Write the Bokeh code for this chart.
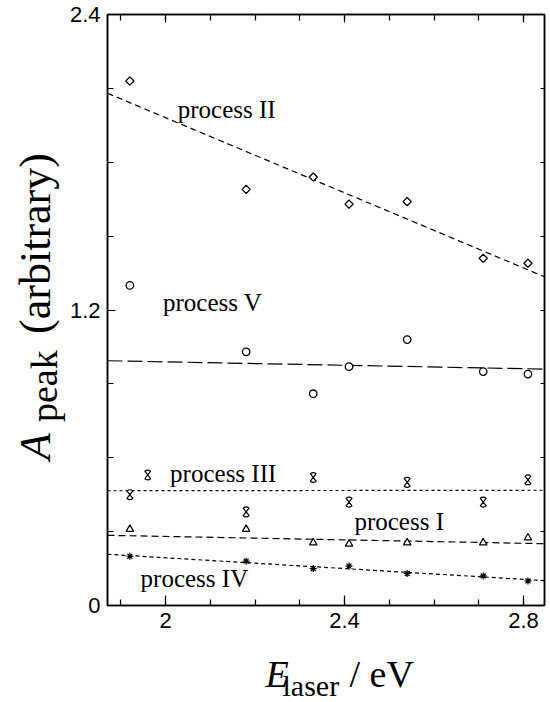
import math

from bokeh.embed import file_html
from bokeh.layouts import column, row
from bokeh.models import FixedTicker, Label, LinearAxis
from bokeh.plotting import figure
from bokeh.resources import INLINE

# Laser photon energies (eV)
e_laser = [1.92, 2.18, 2.33, 2.41, 2.54, 2.71, 2.81]
e_laser_iii = [1.92, 1.96, 2.18, 2.33, 2.41, 2.54, 2.71, 2.81]

# Peak amplitudes (arbitrary units) for each process
a_ii = [2.13, 1.69, 1.74, 1.63, 1.64, 1.41, 1.39]
a_v = [1.30, 1.03, 0.86, 0.97, 1.08, 0.95, 0.94]
a_iii = [0.45, 0.53, 0.38, 0.52, 0.42, 0.50, 0.42, 0.51]
a_i = [0.31, 0.31, 0.255, 0.25, 0.255, 0.255, 0.275]
a_iv = [0.20, 0.18, 0.15, 0.16, 0.13, 0.12, 0.10]

# Linear fits, evaluated at both ends of the energy axis
fit_x = [1.87, 2.847]
fit_ii = [2.08, 1.335]
fit_v = [0.994, 0.960]
fit_iii = [0.466, 0.468]
fit_i = [0.285, 0.251]
fit_iv = [0.208, 0.101]

# Axis ticks
x_ticks = [2.0, 2.4, 2.8]
x_tick_labels = ["2", "2.4", "2.8"]
x_minor = [1.9, 2.0, 2.1, 2.2, 2.3, 2.4, 2.5, 2.6, 2.7, 2.8]
y_ticks = [0.0, 1.2, 2.4]
y_tick_labels = ["0", "1.2", "2.4"]
y_minor = [0.3, 0.6, 0.9, 1.5, 1.8, 2.1]

# Process names and the baseline point where each is written
proc_names = ["process II", "process V", "process III", "process I", "process IV"]
proc_x = [2.027, 1.994, 2.010, 2.422, 1.944]
proc_y = [1.98, 1.197, 0.503, 0.307, 0.076]

X_START, X_END = 1.87, 2.847
Y_START, Y_END = 0.0, 2.4

SERIF = "Liberation Serif"
SANS = "Liberation Sans"
INK = "black"

# Label centres its text box on the anchor; the baseline then sits this
# fraction of the font size below the anchor.
BASELINE_DROP = 0.337

# sizes of the three panels (pixels)
LEFT_W = 66
MAIN_W, MAIN_H = 550 - LEFT_W, 640
BOTTOM_H = 702 - MAIN_H
FRAME_TOP, FRAME_BOTTOM = 14, 35
PX_PER_Y = (MAIN_H - FRAME_TOP - FRAME_BOTTOM) / (Y_END - Y_START)


def blank_panel(w, h, x_range, y_range):
    """A bare figure used only to carry axis-title text."""
    f = figure(width=w, height=h, x_range=x_range, y_range=y_range,
               output_backend="svg", toolbar_location=None,
               x_axis_type=None, y_axis_type=None, min_border=0)
    f.title.visible = False
    f.grid.visible = False
    f.outline_line_color = None
    f.background_fill_color = "white"
    f.border_fill_color = "white"
    return f


p = figure(
    width=MAIN_W, height=MAIN_H,
    x_range=(X_START, X_END), y_range=(Y_START, Y_END),
    output_backend="svg", toolbar_location=None,
    min_border_left=38, min_border_right=6,
    min_border_top=FRAME_TOP, min_border_bottom=FRAME_BOTTOM,
    x_axis_type=None, y_axis_type=None,
)
p.title.visible = False
p.grid.visible = False
p.outline_line_color = INK
p.outline_line_width = 1.5
p.background_fill_color = "white"
p.border_fill_color = "white"


def make_axis(ticks, minor, labels, major_in, minor_in, show_labels):
    ax = LinearAxis(ticker=FixedTicker(ticks=ticks, minor_ticks=minor))
    ax.axis_line_color = INK
    ax.axis_line_width = 1.5
    ax.major_tick_line_color = INK
    ax.minor_tick_line_color = INK
    ax.major_tick_line_width = 1.2
    ax.minor_tick_line_width = 1.2
    ax.major_tick_in = major_in
    ax.major_tick_out = 0
    ax.minor_tick_in = minor_in
    ax.minor_tick_out = 0
    if show_labels:
        ax.major_label_overrides = dict(zip(ticks, labels))
        ax.major_label_text_font = SANS
        ax.major_label_text_font_size = "22px"
        ax.major_label_text_color = INK
        ax.major_label_standoff = 7
    else:
        ax.major_label_text_font_size = "0px"
        ax.major_label_text_color = None
        ax.major_label_standoff = 0
    return ax


p.add_layout(make_axis(x_ticks, x_minor, x_tick_labels, 10, 6, True), "below")
p.add_layout(make_axis(x_ticks, x_minor, x_tick_labels, 8, 6, False), "above")
p.add_layout(make_axis(y_ticks, y_minor, y_tick_labels, 8, 6, True), "left")
p.add_layout(make_axis(y_ticks, y_minor, y_tick_labels, 4, 4, False), "right")

# Fit lines
p.line(fit_x, fit_ii, line_color=INK, line_width=1.2, line_dash="6 4")
p.line(fit_x, fit_v, line_color=INK, line_width=1.2, line_dash="15 5")
p.line(fit_x, fit_iii, line_color=INK, line_width=1.2, line_dash="3 3")
p.line(fit_x, fit_i, line_color=INK, line_width=1.2, line_dash="7 4")
p.line(fit_x, fit_iv, line_color=INK, line_width=1.2, line_dash="4 3")

# Measured points
p.scatter(e_laser, a_ii, marker="square", angle=math.pi / 4, size=5.8,
          fill_color="white", line_color=INK, line_width=1.3)
p.scatter(e_laser, a_v, marker="circle", size=7.5,
          fill_color="white", line_color=INK, line_width=1.3)
p.scatter(e_laser, a_i, marker="triangle", size=7.5,
          fill_color="white", line_color=INK, line_width=1.2)
p.scatter(e_laser, a_iv, marker="asterisk", size=7,
          line_color=INK, line_width=1.2)
# hourglass symbols: two opposed wedges sharing their apex
for start, end in [(52, 128), (232, 308)]:
    p.wedge(e_laser_iii, a_iii, radius=4.8, radius_units="screen",
            start_angle=math.radians(start), end_angle=math.radians(end),
            fill_color="white", line_color=INK, line_width=1.2)

PROC_SIZE = 25
for t, x, y in zip(proc_names, proc_x, proc_y):
    p.add_layout(Label(x=x, y=y + BASELINE_DROP * PROC_SIZE / PX_PER_Y, text=t,
                       text_font=SERIF, text_font_size=f"{PROC_SIZE}px",
                       text_color=INK, text_baseline="middle", text_align="left"))


def title_part(f, text, x, y, size, style="normal", angle=0.0):
    f.add_layout(Label(x=x, y=y, text=text, text_font=SERIF, text_font_size=f"{size}px",
                       text_font_style=style, text_color=INK,
                       text_baseline="middle", text_align="left", angle=angle))


# y-axis title: A_peak (arbitrary), read bottom to top.
# Horizontal units are pixels, vertical units follow the amplitude axis.
left = blank_panel(LEFT_W, MAIN_H, (0, LEFT_W), p.y_range)
Y_MAIN, Y_SUB = 44, 38
title_part(left, "A", 50 - BASELINE_DROP * Y_MAIN, 0.591, Y_MAIN, "italic", math.pi / 2)
title_part(left, "peak", 56 - BASELINE_DROP * Y_SUB, 0.745, Y_SUB, "normal", math.pi / 2)
title_part(left, "(arbitrary)", 50 - BASELINE_DROP * Y_MAIN, 1.103, Y_MAIN, "normal", math.pi / 2)

# x-axis title: E_laser / eV (units are pixels from the panel's lower left)
bottom = blank_panel(550, BOTTOM_H, (0, 550), (0, BOTTOM_H))
X_MAIN, X_SUB = 38, 30
title_part(bottom, "E", 265, 15.3 + BASELINE_DROP * X_MAIN, X_MAIN, "italic")
title_part(bottom, "laser", 282, 7 + BASELINE_DROP * X_SUB, X_SUB)
title_part(bottom, "/ eV", 349, 15.3 + BASELINE_DROP * X_MAIN, X_MAIN)

layout = column(row(left, p, spacing=0), bottom, spacing=0)

open("out.html", "w").write(file_html(layout, INLINE))
